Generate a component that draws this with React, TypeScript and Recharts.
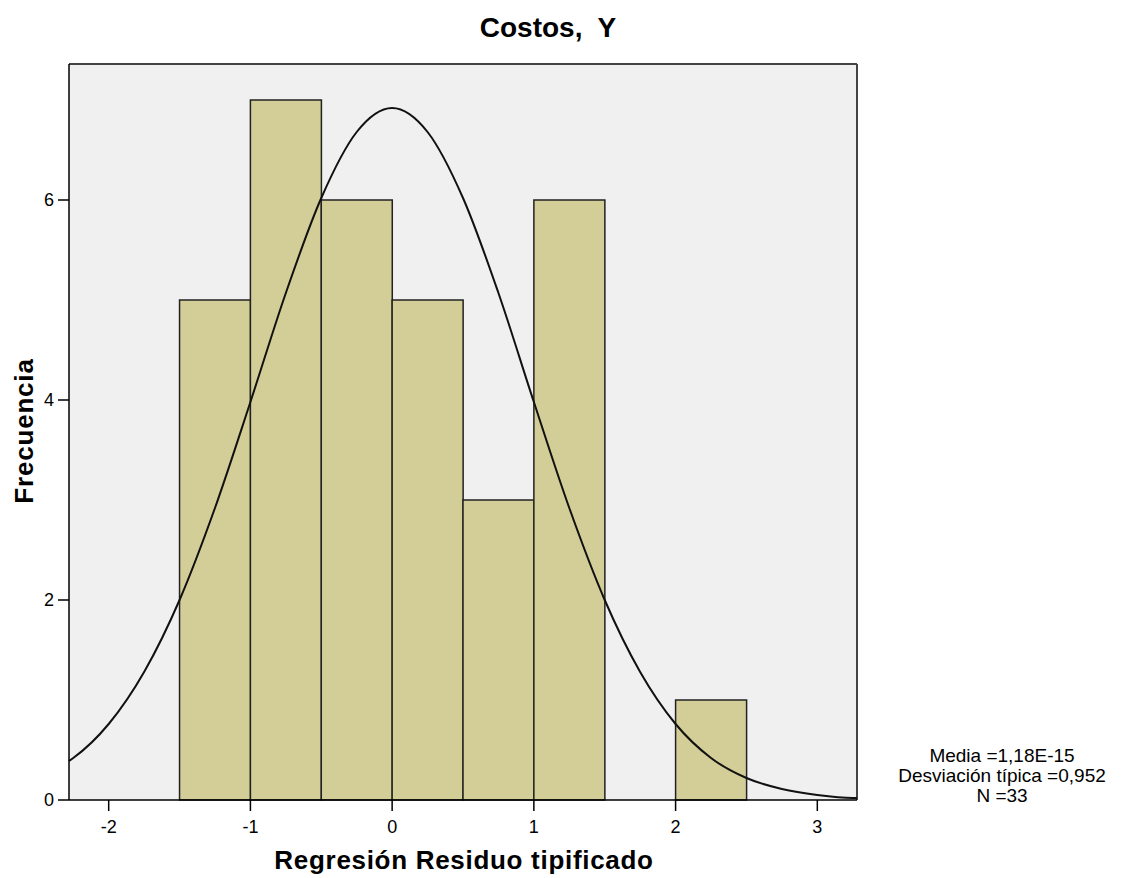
import { ComposedChart, Bar, Line, XAxis, YAxis, CartesianGrid, ReferenceLine } from "recharts";

// histogram bins (center of each 0.5 wide bin) and frequencies
const binCenters = [-1.25, -0.75, -0.25, 0.25, 0.75, 1.25, 2.25];
const binCounts = [5, 7, 6, 5, 3, 6, 1];

// normal curve
const curveX = [-2.28, -2.25, -2, -1.75, -1.5, -1.25, -1, -0.75, -0.5, -0.25, 0, 0.25, 0.5, 0.75, 1, 1.25, 1.5, 1.75, 2, 2.25, 2.5, 2.75, 3, 3.25, 3.28];
const curveY = [0.39, 0.42, 0.76, 1.28, 2.0, 2.92, 3.98, 5.07, 6.02, 6.68, 6.92, 6.68, 6.02, 5.07, 3.98, 2.92, 2.0, 1.28, 0.76, 0.42, 0.22, 0.11, 0.05, 0.02, 0.02];

const xTicks = [-2, -1, 0, 1, 2, 3];
const yTicks = [0, 2, 4, 6];
const xDomain = [-2.28, 3.28];
const yMax = 7.36;

const stats = ["Media =1,18E-15", "Desviación típica =0,952", "N =33"];

const bins = binCenters.map((x, i) => ({ x, count: binCounts[i] }));
const curve = curveX.map((x, i) => ({ x, curve: curveY[i] }));

const font = "'Liberation Sans', Arial, sans-serif";
const tickStyle = { fontSize: 18, fill: "#000", fontFamily: font };

export default function App() {
  return (
    <div style={{ position: "absolute", left: 0, top: 0, width: 1122, height: 878, background: "#fff" }}>
      <ComposedChart
        width={1122}
        height={878}
        data={bins}
        barCategoryGap={0}
        barGap={0}
        margin={{ top: 64, right: 265, bottom: 0, left: 0 }}
      >
        <CartesianGrid fill="#f0f0f0" horizontal={false} vertical={false} />
        <XAxis
          dataKey="x"
          type="number"
          domain={xDomain}
          ticks={xTicks}
          height={78}
          tickSize={11}
          tickMargin={9}
          axisLine={{ stroke: "#000", strokeWidth: 1.5 }}
          tickLine={{ stroke: "#000", strokeWidth: 1.5 }}
          tick={tickStyle}
        />
        <XAxis xAxisId="bins" dataKey="x" type="number" domain={xDomain} hide />
        <YAxis
          type="number"
          domain={[0, yMax]}
          ticks={yTicks}
          width={69}
          tickSize={11}
          tickMargin={4}
          axisLine={{ stroke: "#000", strokeWidth: 1.5 }}
          tickLine={{ stroke: "#000", strokeWidth: 1.5 }}
          tick={tickStyle}
        />
        <ReferenceLine y={yMax} stroke="#444" strokeWidth={2} />
        <ReferenceLine x={xDomain[1]} stroke="#444" strokeWidth={2} />
        <Bar xAxisId="bins" dataKey="count" fill="#d3ce97" stroke="#222" strokeWidth={1.5} isAnimationActive={false} />
        <Line data={curve} dataKey="curve" type="monotone" stroke="#111" strokeWidth={2} dot={false} activeDot={false} isAnimationActive={false} />
      </ComposedChart>
      <svg width={1122} height={878} style={{ position: "absolute", left: 0, top: 0, pointerEvents: "none" }}>
        <text x={548} y={37} textAnchor="middle" fontFamily={font} fontWeight="bold" fontSize={28} style={{ whiteSpace: "pre" }}>
          {"Costos,  Y"}
        </text>
        <text x={464} y={869} textAnchor="middle" fontFamily={font} fontWeight="bold" fontSize={26} letterSpacing={0.7}>
          Regresión Residuo tipificado
        </text>
        <text
          x={33}
          y={431}
          textAnchor="middle"
          fontFamily={font}
          fontWeight="bold"
          fontSize={26}
          letterSpacing={0.8}
          transform="rotate(-90 33 431)"
        >
          Frecuencia
        </text>
        {stats.map((s, i) => (
          <text key={s} x={1002} y={762 + i * 20} textAnchor="middle" fontFamily={font} fontSize={19}>
            {s}
          </text>
        ))}
      </svg>
    </div>
  );
}
